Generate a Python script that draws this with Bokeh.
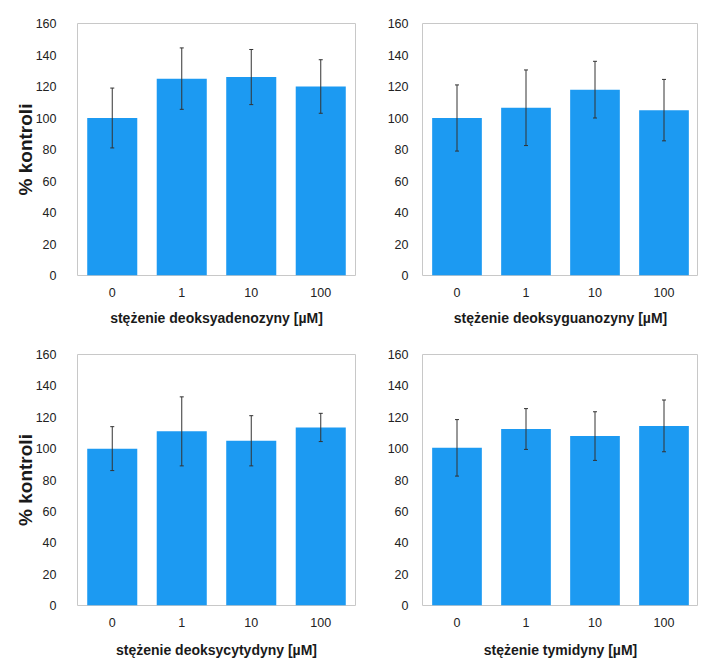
from bokeh.plotting import figure
from bokeh.models import ColumnDataSource, FactorRange, Range1d, FixedTicker, Whisker, TeeHead
from bokeh.layouts import row, column
from bokeh.embed import file_html
from bokeh.resources import INLINE

# ---- data ----
concentrations = ["0", "1", "10", "100"]
y_ticks = [0, 20, 40, 60, 80, 100, 120, 140, 160]

dA_mean = [100, 125, 126, 120]
dA_err = [19, 19.5, 17.5, 17]

dG_mean = [100, 106.5, 118, 105]
dG_err = [21, 24, 18, 19.5]

dC_mean = [100, 111, 105, 113.5]
dC_err = [14, 22, 16, 9]

dT_mean = [100.5, 112.5, 108, 114.5]
dT_err = [18, 13, 15.5, 16.5]

x_titles = ["stężenie deoksyadenozyny [µM]", "stężenie deoksyguanozyny [µM]",
            "stężenie deoksycytydyny [µM]", "stężenie tymidyny [µM]"]
y_title = "% kontroli"

BAR = "#1C9AF2"
FONT = "Liberation Sans"


def panel(means, errs, xtitle, fw, fh, left, top, bottom, right, ylabel, ystand, xlabstand):
    src = ColumnDataSource(dict(
        x=concentrations, top=means,
        upper=[m + e for m, e in zip(means, errs)],
        lower=[m - e for m, e in zip(means, errs)],
    ))
    p = figure(x_range=FactorRange(factors=concentrations, range_padding=0),
               y_range=Range1d(0, 160),
               frame_width=fw, frame_height=fh,
               min_border_left=left, min_border_right=right,
               min_border_top=top, min_border_bottom=bottom,
               output_backend="svg", toolbar_location=None,
               background_fill_color="white", border_fill_color="white")
    p.vbar(x="x", top="top", width=0.72, source=src, fill_color=BAR, line_color=None)
    w = Whisker(base="x", upper="upper", lower="lower", source=src,
                line_color="#333333", line_width=1, level="overlay",
                upper_head=TeeHead(size=4, line_color="#333333", line_width=1),
                lower_head=TeeHead(size=4, line_color="#333333", line_width=1))
    p.add_layout(w)
    p.xgrid.visible = False
    p.ygrid.visible = False
    p.outline_line_color = "#c8c8c8"
    p.outline_line_width = 1

    p.yaxis.ticker = FixedTicker(ticks=y_ticks)
    for ax in (p.xaxis, p.yaxis):
        ax.axis_line_color = None
        ax.major_tick_line_color = None
        ax.minor_tick_line_color = None
        ax.major_label_text_font = FONT
        ax.major_label_text_font_size = "12.5px"
        ax.major_label_text_color = "#222222"
    p.yaxis.major_label_standoff = ystand
    p.xaxis.major_label_standoff = 6
    p.xaxis.axis_label = xtitle
    p.xaxis.axis_label_text_font = FONT
    p.xaxis.axis_label_text_font_style = "bold"
    p.xaxis.axis_label_text_font_size = "14px"
    p.xaxis.axis_label_text_color = "#1a1a1a"
    p.xaxis.axis_label_standoff = xlabstand
    if ylabel:
        p.yaxis.axis_label = y_title
        p.yaxis.axis_label_text_font = FONT
        p.yaxis.axis_label_text_font_style = "bold"
        p.yaxis.axis_label_text_font_size = "19px"
        p.yaxis.axis_label_text_color = "#1a1a1a"
        p.yaxis.axis_label_standoff = -3
    return p


p1 = panel(dA_mean, dA_err, x_titles[0], 278, 252, 77, 23, 50, 4, True, 15, 10)
p2 = panel(dG_mean, dG_err, x_titles[1], 276, 252, 63, 23, 50, 0, False, 8, 10)
p3 = panel(dC_mean, dC_err, x_titles[2], 278, 251, 77, 26, 45, 4, True, 15, 12)
p4 = panel(dT_mean, dT_err, x_titles[3], 276, 251, 63, 26, 45, 0, False, 8, 12)

layout = column(row(p1, p2, spacing=0), row(p3, p4, spacing=0), spacing=0)

open("out.html", "w").write(file_html(layout, INLINE))
